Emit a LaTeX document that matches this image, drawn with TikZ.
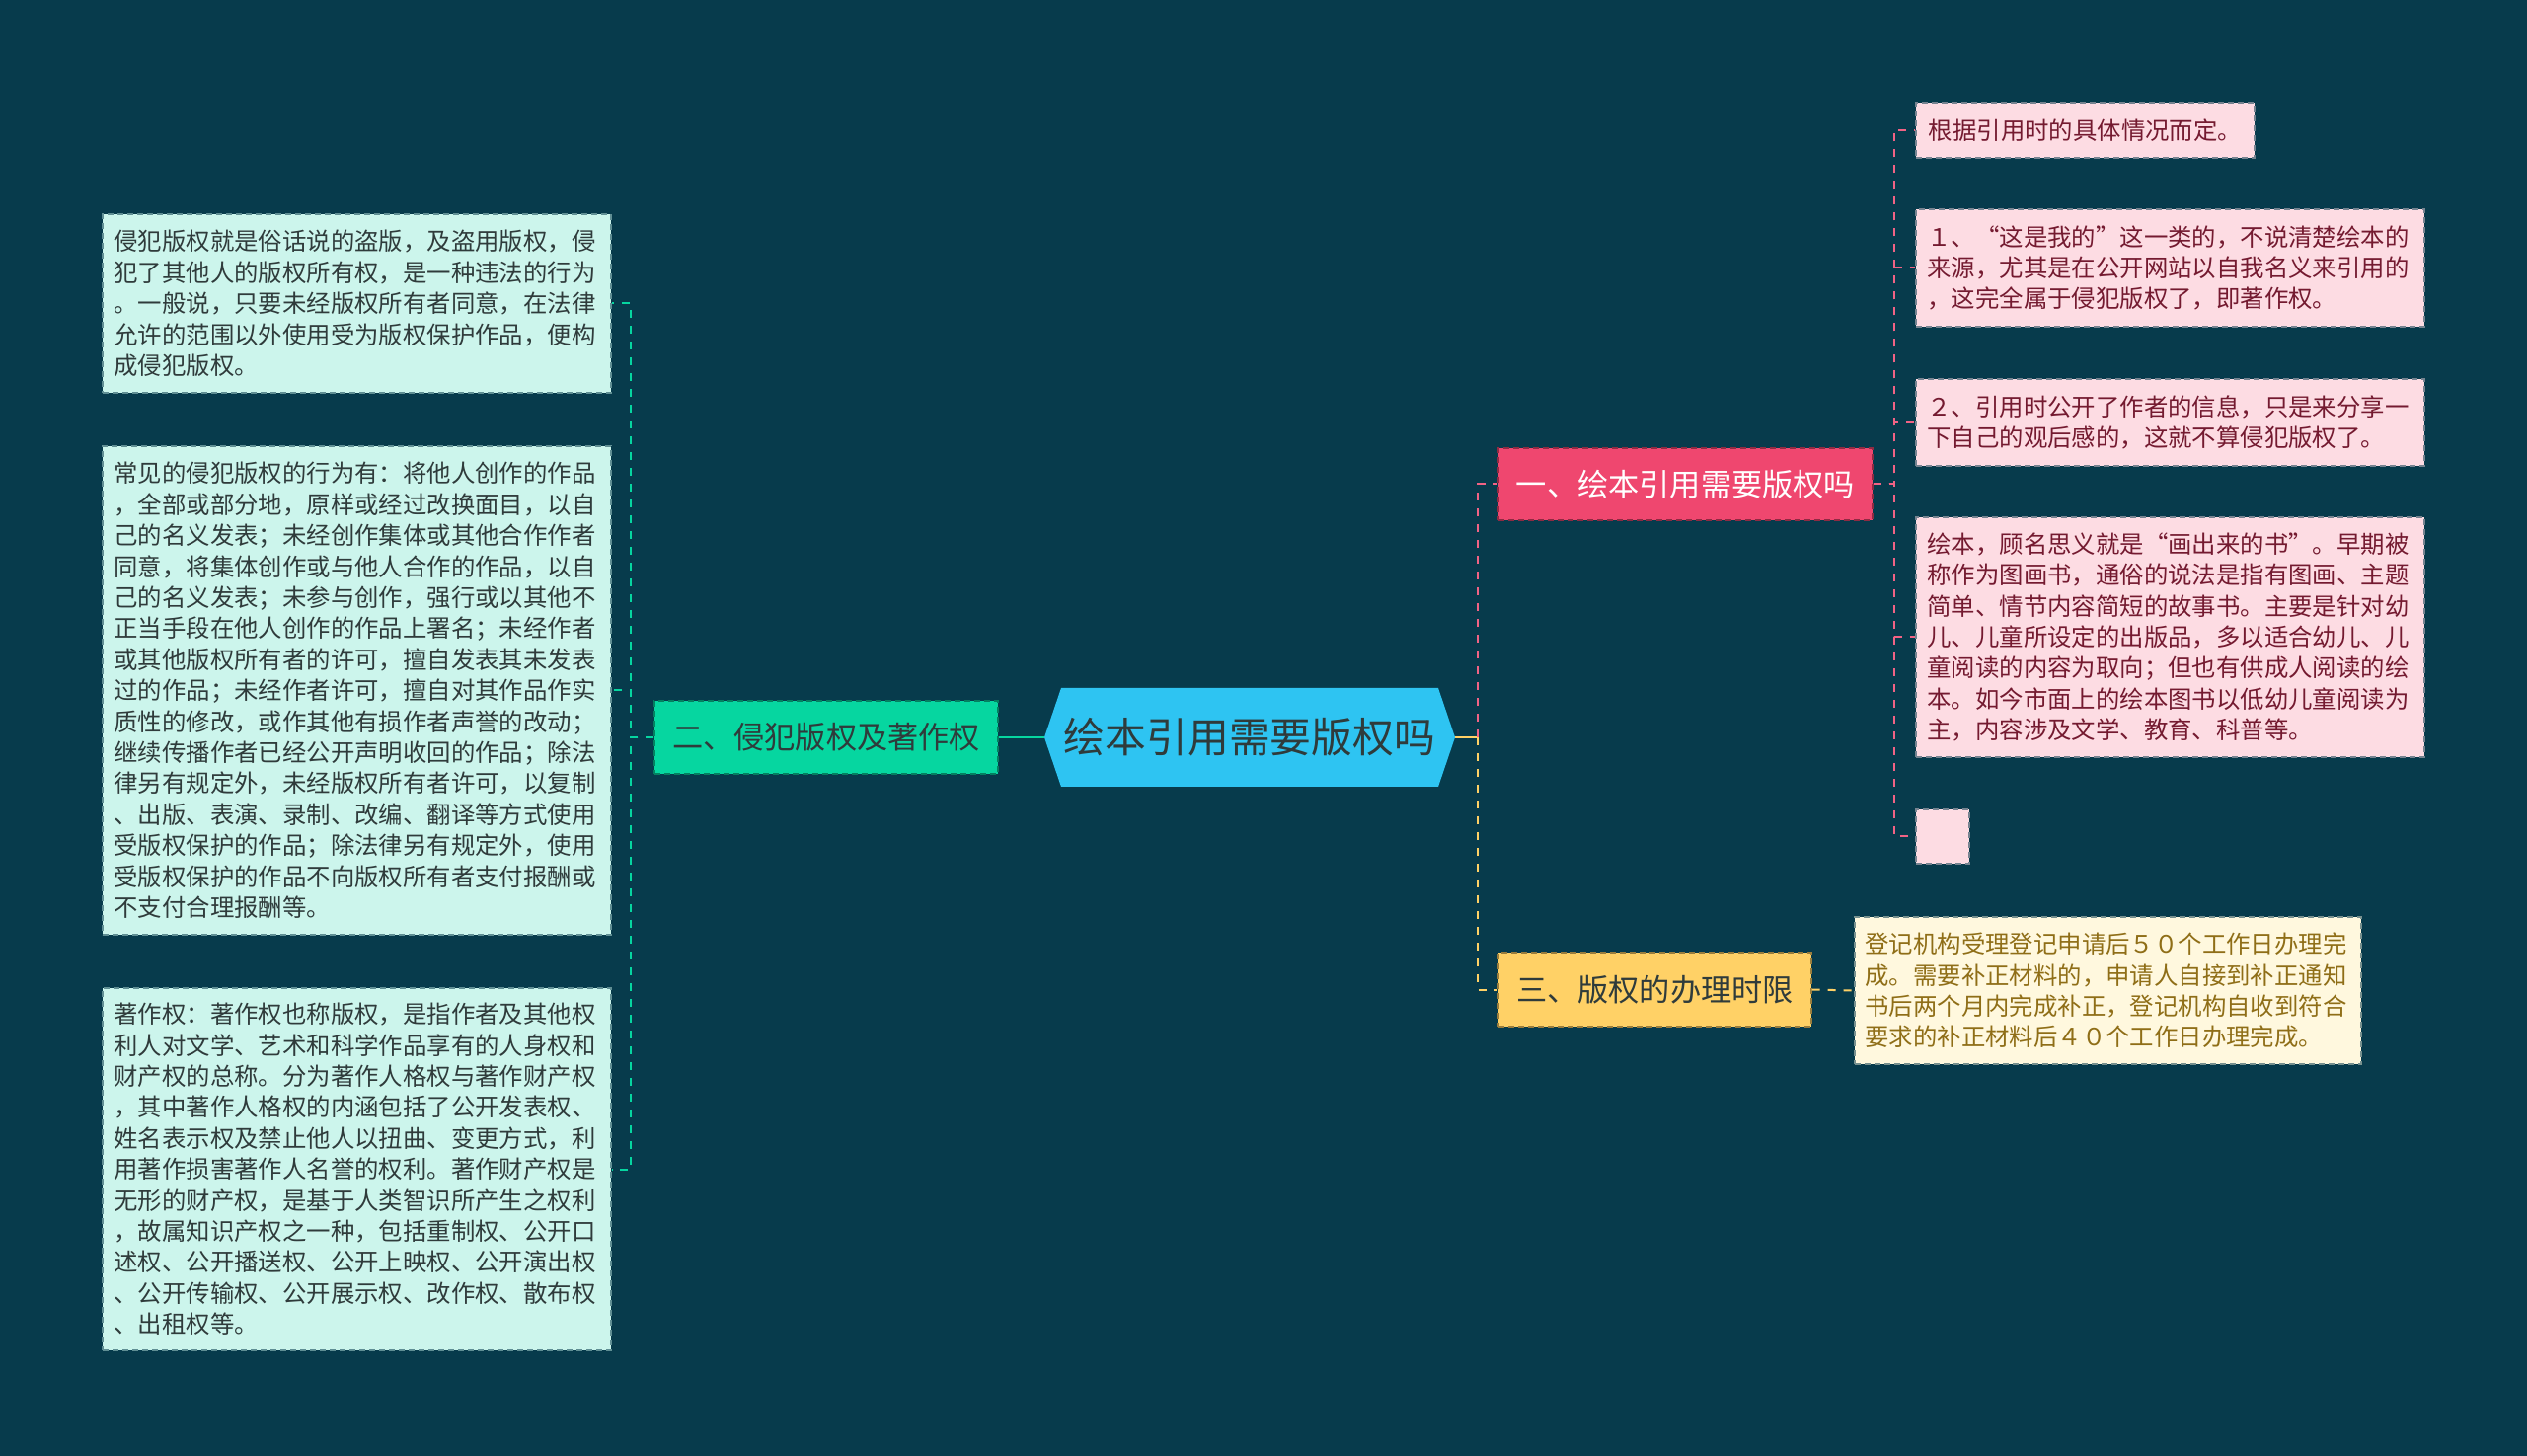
\documentclass[tikz,border=0pt]{standalone}
\usepackage{fontspec}
\setmainfont{Noto Sans CJK SC}
\definecolor{bg}{HTML}{073B4C}
\definecolor{cblue}{HTML}{2EC4F2}
\definecolor{cgreen}{HTML}{06D6A0}
\definecolor{cpink}{HTML}{EF476F}
\definecolor{cyellow}{HTML}{FFD166}
\definecolor{gleaf}{HTML}{CCF5EC}
\definecolor{pleaf}{HTML}{FDDCE3}
\definecolor{yleaf}{HTML}{FFF8DE}
\definecolor{ptext}{HTML}{741A30}
\definecolor{ytext}{HTML}{8F6E17}
\definecolor{dtext}{HTML}{2F3B3B}
\newcommand\leaffont{\fontsize{12.2pt}{15.7pt}\selectfont}
\newcommand\branchfont{\fontsize{15.6pt}{18pt}\selectfont}
\newcommand\mainfont{\fontsize{20.9pt}{24pt}\selectfont}
\begin{document}
\begin{tikzpicture}[x=0.5pt,y=-0.5pt,
  leafbase/.style={dash pattern=on 3pt off 2pt, line width=0.6pt, font=\leaffont, align=left, inner sep=0pt, anchor=center},
  gleafbox/.style={leafbase, fill=gleaf, draw=bg!55!gleaf, text=dtext},
  pleafbox/.style={leafbase, fill=pleaf, draw=bg!55!pleaf, text=ptext},
  yleafbox/.style={leafbase, fill=yleaf, draw=bg!55!yleaf, text=ytext},
  branchbox/.style={dash pattern=on 3pt off 2pt, line width=0.6pt, font=\branchfont, inner sep=0pt, anchor=center},
  gline/.style={cgreen, line width=1pt, dash pattern=on 4pt off 4pt},
  pline/.style={cpink!85!white, line width=1pt, dash pattern=on 4pt off 4pt},
  yline/.style={cyellow, line width=1pt, dash pattern=on 4pt off 4pt}]
\useasboundingbox (0,0) rectangle (2560,1475);
\fill[bg] (0,0) rectangle (2560,1475);

% central hexagon
\fill[cblue] (1058,747) -- (1075,697) -- (1457,697) -- (1474,747) -- (1457,797) -- (1075,797) -- cycle;
\node[anchor=center, minimum width=208pt, minimum height=50pt, inner sep=0pt, font=\mainfont, text=dtext] (c) at (1266,747) {绘本引用需要版权吗};

% branches
\node[branchbox, fill=cgreen, draw=cgreen!60!black, text=dtext, minimum width=174pt, minimum height=37pt] (b2) at (837,747) {二、侵犯版权及著作权};
\node[branchbox, fill=cpink, draw=cpink!60!black, text=white, minimum width=189.5pt, minimum height=36.5pt] (b1) at (1707.5,490.5) {一、绘本引用需要版权吗};
\node[branchbox, fill=cyellow, draw=cyellow!60!black, text=dtext, minimum width=158.5pt, minimum height=37.5pt] (b3) at (1676.5,1002.5) {三、版权的办理时限};

% left leaves
\node[gleafbox, text width=246pt, minimum width=257.5pt, minimum height=90.5pt] (l1) at (361.5,307.5) {侵犯版权就是俗话说的盗版，及盗用版权，侵\\犯了其他人的版权所有权，是一种违法的行为\\。一般说，只要未经版权所有者同意，在法律\\允许的范围以外使用受为版权保护作品，便构\\成侵犯版权。};
\node[gleafbox, text width=246pt, minimum width=257.5pt, minimum height=247.5pt] (l2) at (361.5,699.5) {常见的侵犯版权的行为有：将他人创作的作品\\，全部或部分地，原样或经过改换面目，以自\\己的名义发表；未经创作集体或其他合作作者\\同意，将集体创作或与他人合作的作品，以自\\己的名义发表；未参与创作，强行或以其他不\\正当手段在他人创作的作品上署名；未经作者\\或其他版权所有者的许可，擅自发表其未发表\\过的作品；未经作者许可，擅自对其作品作实\\质性的修改，或作其他有损作者声誉的改动；\\继续传播作者已经公开声明收回的作品；除法\\律另有规定外，未经版权所有者许可，以复制\\、出版、表演、录制、改编、翻译等方式使用\\受版权保护的作品；除法律另有规定外，使用\\受版权保护的作品不向版权所有者支付报酬或\\不支付合理报酬等。};
\node[gleafbox, text width=246pt, minimum width=257.5pt, minimum height=183.5pt] (l3) at (361.5,1184.5) {著作权：著作权也称版权，是指作者及其他权\\利人对文学、艺术和科学作品享有的人身权和\\财产权的总称。分为著作人格权与著作财产权\\，其中著作人格权的内涵包括了公开发表权、\\姓名表示权及禁止他人以扭曲、变更方式，利\\用著作损害著作人名誉的权利。著作财产权是\\无形的财产权，是基于人类智识所产生之权利\\，故属知识产权之一种，包括重制权、公开口\\述权、公开播送权、公开上映权、公开演出权\\、公开传输权、公开展示权、改作权、散布权\\、出租权等。};

% right pink leaves
\node[pleafbox, minimum width=171.5pt, minimum height=28pt] (ra) at (2112.5,132) {根据引用时的具体情况而定。};
\node[pleafbox, text width=246pt, minimum width=257.5pt, minimum height=59.5pt] (rb) at (2198.5,271.5) {１、“这是我的”这一类的，不说清楚绘本的\\来源，尤其是在公开网站以自我名义来引用的\\，这完全属于侵犯版权了，即著作权。};
\node[pleafbox, text width=246pt, minimum width=257.5pt, minimum height=44pt] (rc) at (2198.5,428) {２、引用时公开了作者的信息，只是来分享一\\下自己的观后感的，这就不算侵犯版权了。};
\node[pleafbox, text width=246pt, minimum width=257.5pt, minimum height=121.5pt] (rd) at (2198.5,645.5) {绘本，顾名思义就是“画出来的书”。早期被\\称作为图画书，通俗的说法是指有图画、主题\\简单、情节内容简短的故事书。主要是针对幼\\儿、儿童所设定的出版品，多以适合幼儿、儿\\童阅读的内容为取向；但也有供成人阅读的绘\\本。如今市面上的绘本图书以低幼儿童阅读为\\主，内容涉及文学、教育、科普等。};
\node[pleafbox, minimum width=27pt, minimum height=27.5pt] (re) at (1968,847.5) {};

% yellow leaf
\node[yleafbox, text width=246pt, minimum width=256.5pt, minimum height=74.5pt] (yl) at (2135.5,1003.5) {登记机构受理登记申请后５０个工作日办理完\\成。需要补正材料的，申请人自接到补正通知\\书后两个月内完成补正，登记机构自收到符合\\要求的补正材料后４０个工作日办理完成。};

% connectors
\draw[cgreen, line width=1.2pt] (c.west) -- (b2.east);
\draw[gline] (b2.west) -- ++(-23,0) |- (l1.east);
\draw[gline] (b2.west) -- ++(-23,0) |- (l2.east);
\draw[gline] (b2.west) -- ++(-23,0) |- (l3.east);

\draw[cyellow, line width=1.2pt] (c.east) -- ++(23,0);
\draw[pline] (c.east) ++(23,0) |- (b1.west);
\draw[yline] (c.east) ++(23,0) |- (b3.west);

\draw[pline] (b1.east) -- ++(21,0) |- (ra.west);
\draw[pline] (b1.east) -- ++(21,0) |- (rb.west);
\draw[pline] (b1.east) -- ++(21,0) |- (rc.west);
\draw[pline] (b1.east) -- ++(21,0) |- (rd.west);
\draw[pline] (b1.east) -- ++(21,0) |- (re.west);

\draw[yline] (b3.east) -- (yl.west);
\end{tikzpicture}
\end{document}
